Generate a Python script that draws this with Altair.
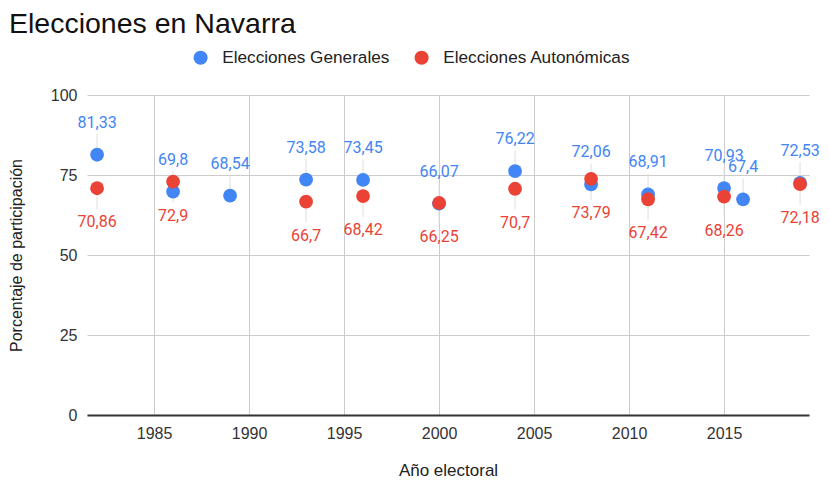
import altair as alt
import pandas as pd

gen_years = [1982, 1986, 1989, 1993, 1996, 2000, 2004, 2008, 2011, 2015, 2016, 2019]
gen_vals = [81.33, 69.8, 68.54, 73.58, 73.45, 66.07, 76.22, 72.06, 68.91, 70.93, 67.4, 72.53]
aut_years = [1982, 1986, 1993, 1996, 2000, 2004, 2008, 2011, 2015, 2019]
aut_vals = [70.86, 72.9, 66.7, 68.42, 66.25, 70.7, 73.79, 67.42, 68.26, 72.18]
series = ["Elecciones Generales", "Elecciones Autonómicas"]
colors = ["#4285F4", "#EA4335"]
x_ticks = [1985, 1990, 1995, 2000, 2005, 2010, 2015]
y_ticks = [0, 25, 50, 75, 100]

rows = []
for yr, v in zip(gen_years, gen_vals):
    rows.append({"anio": yr, "valor": v, "serie": series[0], "orden": 0, "dir": 1})
for yr, v in zip(aut_years, aut_vals):
    rows.append({"anio": yr, "valor": v, "serie": series[1], "orden": 1, "dir": -1})
df = pd.DataFrame(rows)

FONT = "Liberation Sans"
LFONT = "Roboto"

x = alt.X("anio:Q", scale=alt.Scale(domain=[1981.47, 2019.47], nice=False, zero=False),
          axis=alt.Axis(values=x_ticks, format="d", title="Año electoral", grid=True,
                        ticks=False, labelPadding=10, titlePadding=21, titleFontSize=17,
                        domainColor="#333333", domainWidth=2))
y = alt.Y("valor:Q", scale=alt.Scale(domain=[0, 100], nice=False),
          axis=alt.Axis(values=y_ticks, title="Porcentaje de participación", grid=True,
                        ticks=False, domain=False, labelPadding=10, titlePadding=26))
color = alt.Color("serie:N", scale=alt.Scale(domain=series, range=colors),
                  legend=alt.Legend(title=None, orient="none", direction="horizontal",
                                    legendX=105, legendY=-46, symbolType="circle",
                                    symbolSize=200, labelFontSize=17.2, labelColor="#222222",
                                    labelFont=FONT, columnPadding=23, labelOffset=13,
                                    labelLimit=300, symbolStrokeWidth=0))

base = alt.Chart(df)

leaders = base.transform_calculate(
    y2="datum.valor + datum.dir * 6.5"
).mark_rule(color="#dddddd", strokeWidth=1).encode(
    x="anio:Q", y="valor:Q", y2="y2:Q"
)

points = base.mark_circle(size=190, opacity=1).encode(
    x=x, y=y, color=color, order=alt.Order("orden:Q")
)

lab = base.transform_calculate(
    etiqueta="replace(toString(datum.valor), '.', ',')"
)
text_gen = lab.transform_filter(alt.datum.dir == 1).mark_text(
    dy=-32, fontSize=16, font=LFONT, color=colors[0]
).encode(x="anio:Q", y="valor:Q", text="etiqueta:N")
text_aut = lab.transform_filter(alt.datum.dir == -1).mark_text(
    dy=34, fontSize=16, font=LFONT, color=colors[1]
).encode(x="anio:Q", y="valor:Q", text="etiqueta:N")

chart = alt.layer(leaders, points, text_gen, text_aut).properties(
    width=722, height=320,
    title=alt.TitleParams("Elecciones en Navarra", anchor="start", frame="group", dx=-78,
                          fontSize=28.5, font=FONT, fontWeight="normal", color="#111111",
                          offset=11),
    autosize=alt.AutoSizeParams(type="none"),
    padding={"left": 79, "top": 87, "right": 12, "bottom": 64},
).configure_view(stroke=None).configure_axis(
    labelFont=FONT, labelFontSize=16, labelColor="#333333",
    titleFont=FONT, titleFontSize=16, titleFontWeight="normal", titleColor="#222222",
    gridColor="#cccccc", gridWidth=1
)

chart.save("out.html", embed_options={"renderer": "svg", "actions": False})
